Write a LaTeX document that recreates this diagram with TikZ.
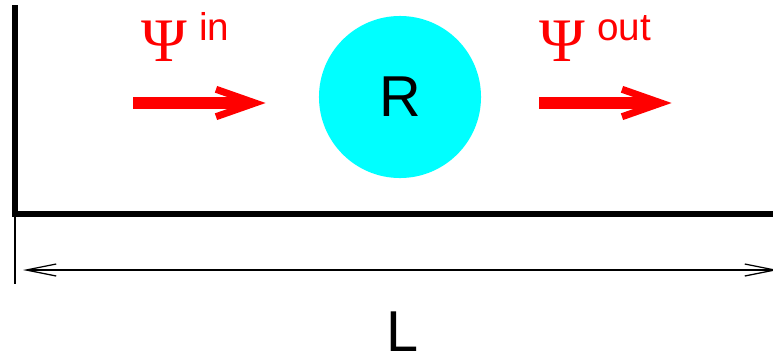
\documentclass[tikz,border=0pt]{standalone}
\usepackage{fontspec}
\setmainfont{Liberation Sans}
\newfontfamily\psifont{Liberation Serif}
\usetikzlibrary{arrows.meta, calc}
\definecolor{flowred}{HTML}{FF0000}
\definecolor{scatcyan}{HTML}{00FFFF}

\begin{document}
\begin{tikzpicture}[
    x=0.025cm, y=-0.025cm,
    wall/.style={line width=4.3pt, line join=miter},
    dim/.style={line width=0.9pt, {Straight Barb[length=0.75cm, width=0.3cm]}-{Straight Barb[length=0.75cm, width=0.3cm]}},
    flow/.style={flowred, line width=8.5pt},
    flowtip/.style={flowred, line width=5pt, line join=miter},
    big/.style={font=\fontsize{41}{41}\selectfont, inner sep=0pt},
    psi/.style={font=\psifont\fontsize{44}{44}\selectfont, text=flowred, inner sep=0pt, anchor=base west},
    tag/.style={font=\fontsize{27.5}{27.5}\selectfont, text=flowred, inner sep=0pt, anchor=base west},
]
\useasboundingbox (0,0) rectangle (773,356);

% ---------------- channel walls
\draw[wall] (15,5) -- (15,214) -- (780,214);

% ---------------- scatterer
\node[big, circle, fill=scatcyan, minimum size=4.05cm] (R) at (400,97) {R};

% ---------------- incoming and outgoing waves
\foreach \s/\n in {133/in, 539/out}{
    \coordinate (\n tail) at (\s,103);
    \coordinate (\n end) at (\s+112,103);
    \coordinate (\n head) at (\s+122,103);
    \draw[flow] (\n tail) -- (\n end);
    \draw[flowtip] ($(\n head)+(-39,-13.7)$) -- (\n head) -- ($(\n head)+(-39,13.7)$);
}
\node[psi] (psiin) at (141,61) {Ψ};
\node[tag] (tagin) at (199,40) {in};
\node[psi] (psiout) at (539,61) {Ψ};
\node[tag] (tagout) at (597,40) {out};

% ---------------- length of the channel
\coordinate (ticktop) at (15,214);
\coordinate (tickbot) at (15,284);
\draw[line width=1pt] (ticktop) -- (tickbot);
\coordinate (dimleft) at (23,270);
\coordinate (dimright) at (778,270);
\draw[dim] (dimleft) -- (dimright);
\node[big] (L) at (403,332) {L};
\end{tikzpicture}
\end{document}
